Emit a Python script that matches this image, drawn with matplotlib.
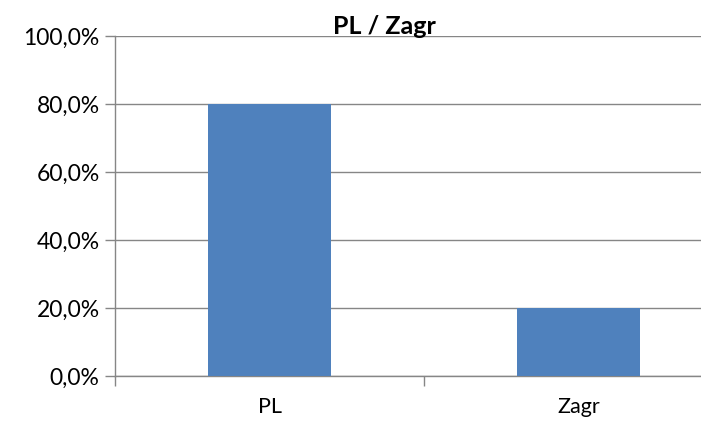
import matplotlib
matplotlib.use('Agg')
import matplotlib.pyplot as plt
from matplotlib.ticker import FuncFormatter, FixedLocator

categories = ["PL", "Zagr"]
shares = [0.80, 0.199]

plt.rcParams['font.family'] = ['Lato', 'DejaVu Sans']

fig = plt.figure(figsize=(7.01, 4.21), dpi=100)
ax = fig.add_axes([115/701, 45/421, 618/701, 340/421])

x = list(range(len(categories)))
ax.bar(x, shares, width=0.4, color='#4F81BD', zorder=3)

ax.set_xlim(-0.5, len(categories) - 0.5)
ax.set_ylim(0, 1.0)
ax.set_yticks([0, 0.2, 0.4, 0.6, 0.8, 1.0])
ax.yaxis.set_major_formatter(FuncFormatter(lambda v, p: f"{v*100:.1f}%".replace('.', ',')))
ax.grid(axis='y', color='#868686', linewidth=1, zorder=0)

ax.set_xticks(x)
ax.set_xticklabels(categories)
ax.xaxis.set_minor_locator(FixedLocator([-0.5, 0.5, 1.5]))
ax.tick_params(axis='x', which='major', length=0, pad=15, labelsize=15.5)
ax.tick_params(axis='x', which='minor', length=7, color='#868686', width=1)
ax.tick_params(axis='y', length=7, color='#868686', width=1, labelsize=16.5, pad=4)

for s in ['top', 'right']:
    ax.spines[s].set_visible(False)
for s in ['left', 'bottom']:
    ax.spines[s].set_color('#868686')
    ax.spines[s].set_linewidth(1)

fig.text(384/701, 1 - 26/421, "PL / Zagr", ha='center', va='center', fontsize=18, fontweight='bold')

fig.savefig('out.png', dpi=100)
